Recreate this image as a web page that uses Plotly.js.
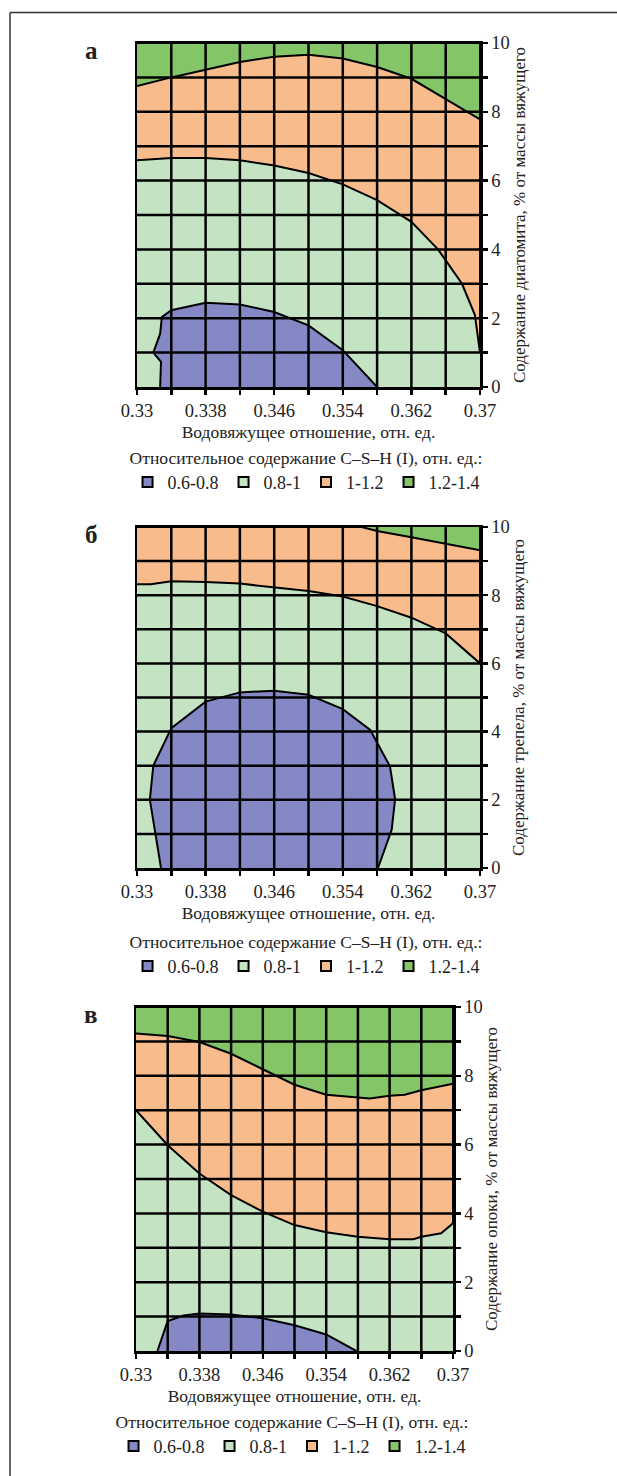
<!DOCTYPE html>
<html>
<head>
<meta charset="utf-8">
<script src="https://cdn.plot.ly/plotly-3.0.1.min.js"></script>
<style>html,body{margin:0;padding:0;background:#fff;}#chart{width:617px;height:1476px;}</style>
</head>
<body>
<div id="chart"></div>
<script>
// ---------- axes / ticks ----------
const xTicks = [0.330, 0.334, 0.338, 0.342, 0.346, 0.350, 0.354, 0.358, 0.362, 0.366, 0.370];
const xLabels = ['0.33', '', '0.338', '', '0.346', '', '0.354', '', '0.362', '', '0.37'];
const yTicks = [0, 1, 2, 3, 4, 5, 6, 7, 8, 9, 10];
const yLabels = ['0', '', '2', '', '4', '', '6', '', '8', '', '10'];
const classes = ['0.6-0.8', '0.8-1', '1-1.2', '1.2-1.4'];
const classColors = ['#8489C6', '#C3E3C3', '#F8BB8C', '#84C567'];

// ---------- panel а (диатомит) ----------
const aTopX = [0.330, 0.334, 0.338, 0.342, 0.346, 0.350, 0.354, 0.358, 0.362, 0.366, 0.370];
const aTopY = [8.75, 9.00, 9.22, 9.45, 9.60, 9.66, 9.55, 9.30, 8.96, 8.38, 7.78];
const aMidX = [0.330, 0.334, 0.338, 0.342, 0.346, 0.350, 0.354, 0.358, 0.362, 0.3651, 0.366, 0.3679, 0.3694, 0.370];
const aMidY = [6.59, 6.66, 6.66, 6.59, 6.44, 6.22, 5.89, 5.43, 4.80, 4.00, 3.68, 3.00, 2.10, 1.00];
const aBlueX = [0.3327, 0.3328, 0.3319, 0.3327, 0.3329, 0.334, 0.338, 0.342, 0.346, 0.350, 0.354, 0.3580];
const aBlueY = [0.00, 0.73, 1.00, 1.55, 2.03, 2.23, 2.45, 2.40, 2.18, 1.79, 1.07, 0.00];

// ---------- panel б (трепел) ----------
const bTopX = [0.3562, 0.358, 0.362, 0.366, 0.370];
const bTopY = [10.0, 9.88, 9.70, 9.51, 9.32];
const bMidX = [0.330, 0.3316, 0.334, 0.338, 0.342, 0.346, 0.350, 0.354, 0.358, 0.362, 0.366, 0.370];
const bMidY = [8.32, 8.32, 8.41, 8.39, 8.34, 8.24, 8.12, 7.96, 7.68, 7.34, 6.88, 6.00];
const bBlueX = [0.3328, 0.3315, 0.3319, 0.334, 0.338, 0.342, 0.346, 0.350, 0.354, 0.3572, 0.3595, 0.3601, 0.3597, 0.3581];
const bBlueY = [0.00, 2.00, 3.00, 4.10, 4.88, 5.15, 5.20, 5.08, 4.66, 4.05, 2.98, 2.02, 1.12, 0.00];

// ---------- panel в (опока) ----------
const cTopX = [0.330, 0.334, 0.338, 0.342, 0.346, 0.350, 0.354, 0.358, 0.3595, 0.362, 0.3639, 0.366, 0.370];
const cTopY = [9.23, 9.16, 8.98, 8.64, 8.19, 7.74, 7.45, 7.36, 7.34, 7.42, 7.45, 7.58, 7.77];
const cMidX = [0.330, 0.334, 0.338, 0.342, 0.346, 0.350, 0.354, 0.358, 0.362, 0.3650, 0.366, 0.3685, 0.370];
const cMidY = [7.00, 5.98, 5.16, 4.53, 4.05, 3.66, 3.45, 3.32, 3.25, 3.25, 3.32, 3.42, 3.71];
const cBlueX = [0.3327, 0.334, 0.336, 0.338, 0.342, 0.346, 0.350, 0.354, 0.3578];
const cBlueY = [0.00, 0.87, 1.03, 1.09, 1.06, 0.95, 0.75, 0.48, 0.00];

const FONT = 'Liberation Serif, Times New Roman, serif';
const TXT = '#222';
const W = 617, H = 1476;

const panels = [
  {id: '', label: 'а', ytitle: 'Содержание диатомита, % от массы вяжущего',
   px: [137, 480], py: [43, 387], legendTop: 441,
   top: [aTopX, aTopY], mid: [aMidX, aMidY], blue: [aBlueX, aBlueY], topIsCorner: false},
  {id: '2', label: 'б', ytitle: 'Содержание трепела, % от массы вяжущего',
   px: [137, 480], py: [527, 868], legendTop: 925,
   top: [bTopX, bTopY], mid: [bMidX, bMidY], blue: [bBlueX, bBlueY], topIsCorner: true},
  {id: '3', label: 'в', ytitle: 'Содержание опоки, % от массы вяжущего',
   px: [136, 453], py: [1007, 1351], legendTop: 1405,
   top: [cTopX, cTopY], mid: [cMidX, cMidY], blue: [cBlueX, cBlueY], topIsCorner: false}
];

const traces = [];
const shapes = [];
const annotations = [];
const layout = {
  width: W, height: H,
  margin: {l: 0, r: 0, t: 0, b: 0},
  paper_bgcolor: '#ffffff',
  plot_bgcolor: classColors[1],
  showlegend: true,
  font: {family: FONT, color: TXT, size: 17}
};

panels.forEach((p, i) => {
  const xa = 'x' + p.id, ya = 'y' + p.id;
  const xKey = 'xaxis' + p.id, yKey = 'yaxis' + p.id;
  const legKey = 'legend' + p.id;

  // orange region: everything above mid curve
  traces.push({
    type: 'scatter', mode: 'lines', xaxis: xa, yaxis: ya, showlegend: false, hoverinfo: 'skip',
    x: p.mid[0].concat([0.370, 0.330]), y: p.mid[1].concat([10, 10]),
    fill: 'toself', fillcolor: classColors[2], line: {color: '#000', width: 2}
  });
  // dark green region: above top curve
  const gx = p.top[0].concat(p.topIsCorner ? [0.370] : [0.370, 0.330]);
  const gy = p.top[1].concat(p.topIsCorner ? [10] : [10, 10]);
  traces.push({
    type: 'scatter', mode: 'lines', xaxis: xa, yaxis: ya, showlegend: false, hoverinfo: 'skip',
    x: gx, y: gy, fill: 'toself', fillcolor: classColors[3], line: {color: '#000', width: 2}
  });
  // blue region
  traces.push({
    type: 'scatter', mode: 'lines', xaxis: xa, yaxis: ya, showlegend: false, hoverinfo: 'skip',
    x: p.blue[0], y: p.blue[1], fill: 'toself', fillcolor: classColors[0], line: {color: '#000', width: 2}
  });
  // legend entries
  classes.forEach((c, k) => {
    traces.push({
      type: 'scatter', mode: 'markers', xaxis: xa, yaxis: ya, x: [null], y: [null],
      name: c, legend: legKey, showlegend: true,
      marker: {symbol: 'square', size: 10, color: classColors[k], line: {color: '#000', width: 2}}
    });
  });

  const dx = [p.px[0] / W, p.px[1] / W];
  const dy = [1 - p.py[1] / H, 1 - p.py[0] / H];

  layout[xKey] = {
    domain: dx, range: [0.33, 0.37], anchor: ya, fixedrange: true,
    tickmode: 'array', tickvals: xTicks, ticktext: xLabels,
    ticks: 'outside', ticklen: 5, tickwidth: 2.5, tickcolor: '#000',
    showline: true, mirror: true, linewidth: 2.5, linecolor: '#000',
    showgrid: false, zeroline: false,
    tickfont: {family: FONT, size: 18.5, color: TXT},
    title: {text: 'Водовяжущее отношение, отн. ед.', font: {family: FONT, size: 17.5, color: TXT}, standoff: 6}
  };
  layout[yKey] = {
    domain: dy, range: [0, 10], anchor: xa, side: 'right', fixedrange: true,
    tickmode: 'array', tickvals: yTicks, ticktext: yLabels,
    ticks: 'outside', ticklen: 5, tickwidth: 2.5, tickcolor: '#000',
    showline: true, mirror: true, linewidth: 2.5, linecolor: '#000',
    showgrid: false, zeroline: false,
    tickfont: {family: FONT, size: 18.5, color: TXT},
    title: {text: p.ytitle, font: {family: FONT, size: 17, color: TXT}, standoff: 4}
  };
  layout[legKey] = {
    orientation: 'h', x: (p.px[0] + p.px[1]) / 2 / W - 0.004, xanchor: 'center',
    y: 1 - p.legendTop / H, yanchor: 'top',
    bgcolor: 'rgba(0,0,0,0)', itemclick: false, itemdoubleclick: false,
    font: {family: FONT, size: 18, color: TXT},
    title: {text: 'Относительное содержание C–S–H (I), отн. ед.:', side: 'top center',
            font: {family: FONT, size: 17.5, color: TXT}}
  };

  // grid lines drawn above the filled regions
  xTicks.slice(1, -1).forEach(v => shapes.push({
    type: 'line', xref: xa, yref: ya, x0: v, x1: v, y0: 0, y1: 10, layer: 'above',
    line: {color: '#000', width: 2.5}
  }));
  yTicks.slice(1, -1).forEach(v => shapes.push({
    type: 'line', xref: xa, yref: ya, x0: 0.33, x1: 0.37, y0: v, y1: v, layer: 'above',
    line: {color: '#000', width: 2.5}
  }));

  annotations.push({
    text: '<b>' + p.label + '</b>', xref: 'paper', yref: 'paper',
    x: 91 / W, y: 1 - (p.py[0] + 7) / H, xanchor: 'center', yanchor: 'middle',
    showarrow: false, font: {family: FONT, size: 25, color: TXT}
  });
});

// figure frame (top and left edges)
shapes.push({type: 'line', xref: 'paper', yref: 'paper', x0: 10 / W, x1: 1.01, y0: 1 - 12.5 / H, y1: 1 - 12.5 / H,
  line: {color: '#333', width: 1.5}});
shapes.push({type: 'line', xref: 'paper', yref: 'paper', x0: 10 / W, x1: 10 / W, y0: 1 - 12.5 / H, y1: -0.01,
  line: {color: '#333', width: 1.5}});

layout.shapes = shapes;
layout.annotations = annotations;

Plotly.newPlot('chart', traces, layout, {staticPlot: true, displayModeBar: false});
</script>
</body>
</html>
